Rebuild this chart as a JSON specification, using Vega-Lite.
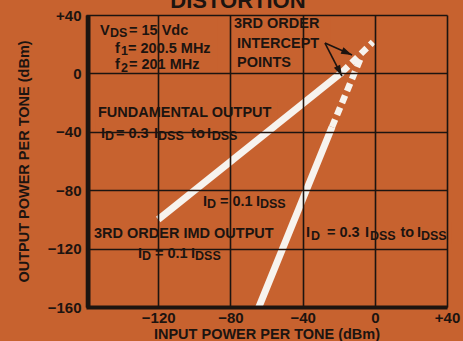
{
  "$schema": "https://vega.github.io/schema/vega-lite/v6.json",
  "width": 361,
  "height": 292,
  "autosize": {"type": "none"},
  "padding": {"left": 86, "top": 15, "right": 16, "bottom": 34},
  "background": "#c7622f",
  "config": {
    "view": {"stroke": null},
    "font": "Liberation Sans",
    "text": {"font": "Liberation Sans", "fontWeight": "bold", "color": "#1c1410", "align": "left", "baseline": "alphabetic"}
  },
  "datasets": {
    "heading": [
      {"t": "DISTORTION", "input": -75.8, "output": 44.8}
    ],
    "masks": [
      {"x1": -153.35, "x2": -86.87, "y1": 38.6, "y2": -3.2},
      {"x1": -79.1, "x2": -24.8, "y1": 38.6, "y2": 3.0},
      {"x1": -154.46, "x2": -54.18, "y1": -18.2, "y2": -33.3},
      {"x1": -154.46, "x2": -74.68, "y1": -33.3, "y2": -47.7},
      {"x1": -96.84, "x2": -44.76, "y1": -81.2, "y2": -94.9},
      {"x1": -156.12, "x2": -50.86, "y1": -101.8, "y2": -116.8},
      {"x1": -39.22, "x2": 42.77, "y1": -101.8, "y2": -116.8},
      {"x1": -133.96, "x2": -78.0, "y1": -116.2, "y2": -129.2}
    ],
    "curves": [
      {"curve": "fundamental", "part": "measured", "input": -120, "output": -100},
      {"curve": "fundamental", "part": "measured", "input": -18, "output": 1},
      {"curve": "fundamental", "part": "extrapolated", "input": -18, "output": 1},
      {"curve": "fundamental", "part": "extrapolated", "input": -1, "output": 21.5},
      {"curve": "imd3", "part": "measured", "input": -65.2, "output": -163},
      {"curve": "imd3", "part": "measured", "input": -23.7, "output": -36.7},
      {"curve": "imd3", "part": "extrapolated", "input": -23.7, "output": -36.7},
      {"curve": "imd3", "part": "extrapolated", "input": -7.1, "output": 12.6}
    ],
    "arrows": [
      {"id": "upper", "input": -27.6, "output": 20.8, "input2": -12.6, "output2": 12.6},
      {"id": "lower", "input": -27.6, "output": 20.8, "input2": -18.2, "output2": -1.8}
    ],
    "labels": [
      {"kind": "main", "t": "V", "input": -152.24, "output": 26.3},
      {"kind": "sub", "t": "DS", "input": -146.7, "output": 25.0},
      {"kind": "main", "t": "= 15 Vdc", "input": -136.18, "output": 26.3},
      {"kind": "main", "t": "f", "input": -143.93, "output": 14.3},
      {"kind": "sub", "t": "1", "input": -140.61, "output": 12.4},
      {"kind": "main", "t": "= 200.5 MHz", "input": -136.73, "output": 14.3},
      {"kind": "main", "t": "f", "input": -143.93, "output": 3.01},
      {"kind": "sub", "t": "2", "input": -140.61, "output": 0.96},
      {"kind": "main", "t": "= 201 MHz", "input": -136.18, "output": 3.01},

      {"kind": "main", "t": "3RD ORDER", "input": -78.0, "output": 31.1},
      {"kind": "main", "t": "INTERCEPT", "input": -76.34, "output": 17.4},
      {"kind": "main", "t": "POINTS", "input": -76.34, "output": 4.38},

      {"kind": "main", "t": "FUNDAMENTAL OUTPUT", "input": -153.35, "output": -29.86},
      {"kind": "main", "t": "I", "input": -151.69, "output": -44.25},
      {"kind": "sub", "t": "D", "input": -149.47, "output": -45.62},
      {"kind": "main", "t": "= 0.3", "input": -143.38, "output": -44.25},
      {"kind": "main", "t": "I", "input": -122.3, "output": -44.25},
      {"kind": "sub", "t": "DSS", "input": -120.1, "output": -45.62},
      {"kind": "main", "t": "to", "input": -101.8, "output": -44.25},
      {"kind": "main", "t": "I", "input": -93.0, "output": -44.25},
      {"kind": "sub", "t": "DSS", "input": -90.4, "output": -45.62},

      {"kind": "main", "t": "I", "input": -95.18, "output": -90.82},
      {"kind": "sub", "t": "D", "input": -92.96, "output": -92.19},
      {"kind": "main", "t": "= 0.1", "input": -85.76, "output": -90.82},
      {"kind": "main", "t": "I", "input": -65.82, "output": -90.82},
      {"kind": "sub", "t": "DSS", "input": -63.6, "output": -92.19},

      {"kind": "main", "t": "3RD ORDER IMD OUTPUT", "input": -155.57, "output": -112.74},

      {"kind": "main", "t": "I", "input": -38.12, "output": -112.05},
      {"kind": "sub", "t": "D", "input": -35.35, "output": -114.11},
      {"kind": "main", "t": "= 0.3", "input": -26.48, "output": -112.05},
      {"kind": "main", "t": "I", "input": -5.43, "output": -112.05},
      {"kind": "sub", "t": "DSS", "input": -2.66, "output": -114.11},
      {"kind": "main", "t": "to", "input": 14.2, "output": -112.05},
      {"kind": "main", "t": "I", "input": 23.38, "output": -112.05},
      {"kind": "sub", "t": "DSS", "input": 25.6, "output": -114.11},

      {"kind": "main", "t": "I", "input": -131.19, "output": -126.44},
      {"kind": "sub", "t": "D", "input": -128.98, "output": -127.81},
      {"kind": "main", "t": "= 0.1", "input": -121.77, "output": -126.44},
      {"kind": "main", "t": "I", "input": -101.8, "output": -126.44},
      {"kind": "sub", "t": "DSS", "input": -99.6, "output": -127.81}
    ]
  },
  "layer": [
    {
      "data": {"name": "masks"},
      "mark": {"type": "rect", "color": "#c7622f"},
      "encoding": {
        "x": {
          "field": "x1",
          "type": "quantitative",
          "scale": {"domain": [-160, 40], "nice": false, "zero": false},
          "axis": {
            "values": [-160, -140, -120, -100, -80, -60, -40, -20, 0, 20, 40],
            "labelExpr": "(datum.value % 40 != 0 || datum.value == -160) ? '' : (datum.value > 0 ? '+' + datum.value : (datum.value < 0 ? '\u2212' + abs(datum.value) : '0'))",
            "grid": true,
            "gridColor": "#1c1410",
            "gridWidth": 1.6,
            "gridOpacity": 1,
            "domainColor": "#1c1410",
            "domainWidth": 4,
            "ticks": false,
            "tickSize": 0,
            "labelFont": "Liberation Sans",
            "labelFontWeight": "bold",
            "labelFontSize": 15,
            "labelColor": "#1c1410",
            "labelPadding": 3,
            "labelFlush": false,
            "labelOverlap": false,
            "title": "INPUT POWER PER TONE (dBm)",
            "titleFont": "Liberation Sans",
            "titleFontSize": 14.5,
            "titleFontWeight": "bold",
            "titleColor": "#1c1410",
            "titlePadding": 2,
            "zindex": 1
          }
        },
        "x2": {"field": "x2"},
        "y": {
          "field": "y1",
          "type": "quantitative",
          "scale": {"domain": [-160, 40], "nice": false, "zero": false},
          "axis": {
            "values": [-160, -120, -80, -40, 0, 40],
            "labelExpr": "datum.value > 0 ? '+' + datum.value : (datum.value < 0 ? '\u2212' + abs(datum.value) : '0')",
            "grid": true,
            "gridColor": "#1c1410",
            "gridWidth": 1.6,
            "gridOpacity": 1,
            "domainColor": "#1c1410",
            "domainWidth": 4,
            "offset": -2,
            "ticks": false,
            "tickSize": 0,
            "labelFont": "Liberation Sans",
            "labelFontWeight": "bold",
            "labelFontSize": 15,
            "labelColor": "#1c1410",
            "labelPadding": 7,
            "labelFlush": false,
            "labelOverlap": false,
            "title": "OUTPUT POWER PER TONE (dBm)",
            "titleFont": "Liberation Sans",
            "titleFontSize": 14.5,
            "titleFontWeight": "bold",
            "titleColor": "#1c1410",
            "titlePadding": 16,
            "zindex": 1
          }
        },
        "y2": {"field": "y2"}
      }
    },
    {
      "data": {"name": "heading"},
      "mark": {"type": "text", "fontSize": 22, "align": "center"},
      "encoding": {
        "x": {"field": "input", "type": "quantitative"},
        "y": {"field": "output", "type": "quantitative"},
        "text": {"field": "t"}
      }
    },
    {
      "data": {"name": "curves"},
      "transform": [{"filter": "datum.part == 'measured'"}],
      "mark": {"type": "line", "color": "#f7f3ee", "strokeWidth": 7, "strokeCap": "butt", "clip": true},
      "encoding": {
        "x": {"field": "input", "type": "quantitative"},
        "y": {"field": "output", "type": "quantitative"},
        "detail": {"field": "curve"}
      }
    },
    {
      "data": {"name": "curves"},
      "transform": [{"filter": "datum.part == 'extrapolated'"}],
      "mark": {"type": "line", "color": "#f7f3ee", "strokeWidth": 6.5, "strokeCap": "butt", "strokeDash": [8, 5]},
      "encoding": {
        "x": {"field": "input", "type": "quantitative"},
        "y": {"field": "output", "type": "quantitative"},
        "detail": {"field": "curve"}
      }
    },
    {
      "data": {"name": "labels"},
      "transform": [{"filter": "datum.kind == 'main'"}],
      "mark": {"type": "text", "fontSize": 14.5},
      "encoding": {
        "x": {"field": "input", "type": "quantitative"},
        "y": {"field": "output", "type": "quantitative"},
        "text": {"field": "t"}
      }
    },
    {
      "data": {"name": "labels"},
      "transform": [{"filter": "datum.kind == 'sub'"}],
      "mark": {"type": "text", "fontSize": 12.5},
      "encoding": {
        "x": {"field": "input", "type": "quantitative"},
        "y": {"field": "output", "type": "quantitative"},
        "text": {"field": "t"}
      }
    },
    {
      "data": {"name": "arrows"},
      "mark": {"type": "rule", "color": "#1c1410", "strokeWidth": 1.6},
      "encoding": {
        "x": {"field": "input", "type": "quantitative"},
        "y": {"field": "output", "type": "quantitative"},
        "x2": {"field": "input2"},
        "y2": {"field": "output2"}
      }
    },
    {
      "data": {"name": "arrows"},
      "transform": [{"filter": "datum.id == 'upper'"}],
      "mark": {"type": "point", "shape": "M-1,-0.32L0,0L-1,0.32Z", "filled": true, "color": "#1c1410", "opacity": 1, "size": 480, "angle": 24},
      "encoding": {
        "x": {"field": "input2", "type": "quantitative"},
        "y": {"field": "output2", "type": "quantitative"}
      }
    },
    {
      "data": {"name": "arrows"},
      "transform": [{"filter": "datum.id == 'lower'"}],
      "mark": {"type": "point", "shape": "M-1,-0.32L0,0L-1,0.32Z", "filled": true, "color": "#1c1410", "opacity": 1, "size": 480, "angle": 63},
      "encoding": {
        "x": {"field": "input2", "type": "quantitative"},
        "y": {"field": "output2", "type": "quantitative"}
      }
    }
  ]
}
